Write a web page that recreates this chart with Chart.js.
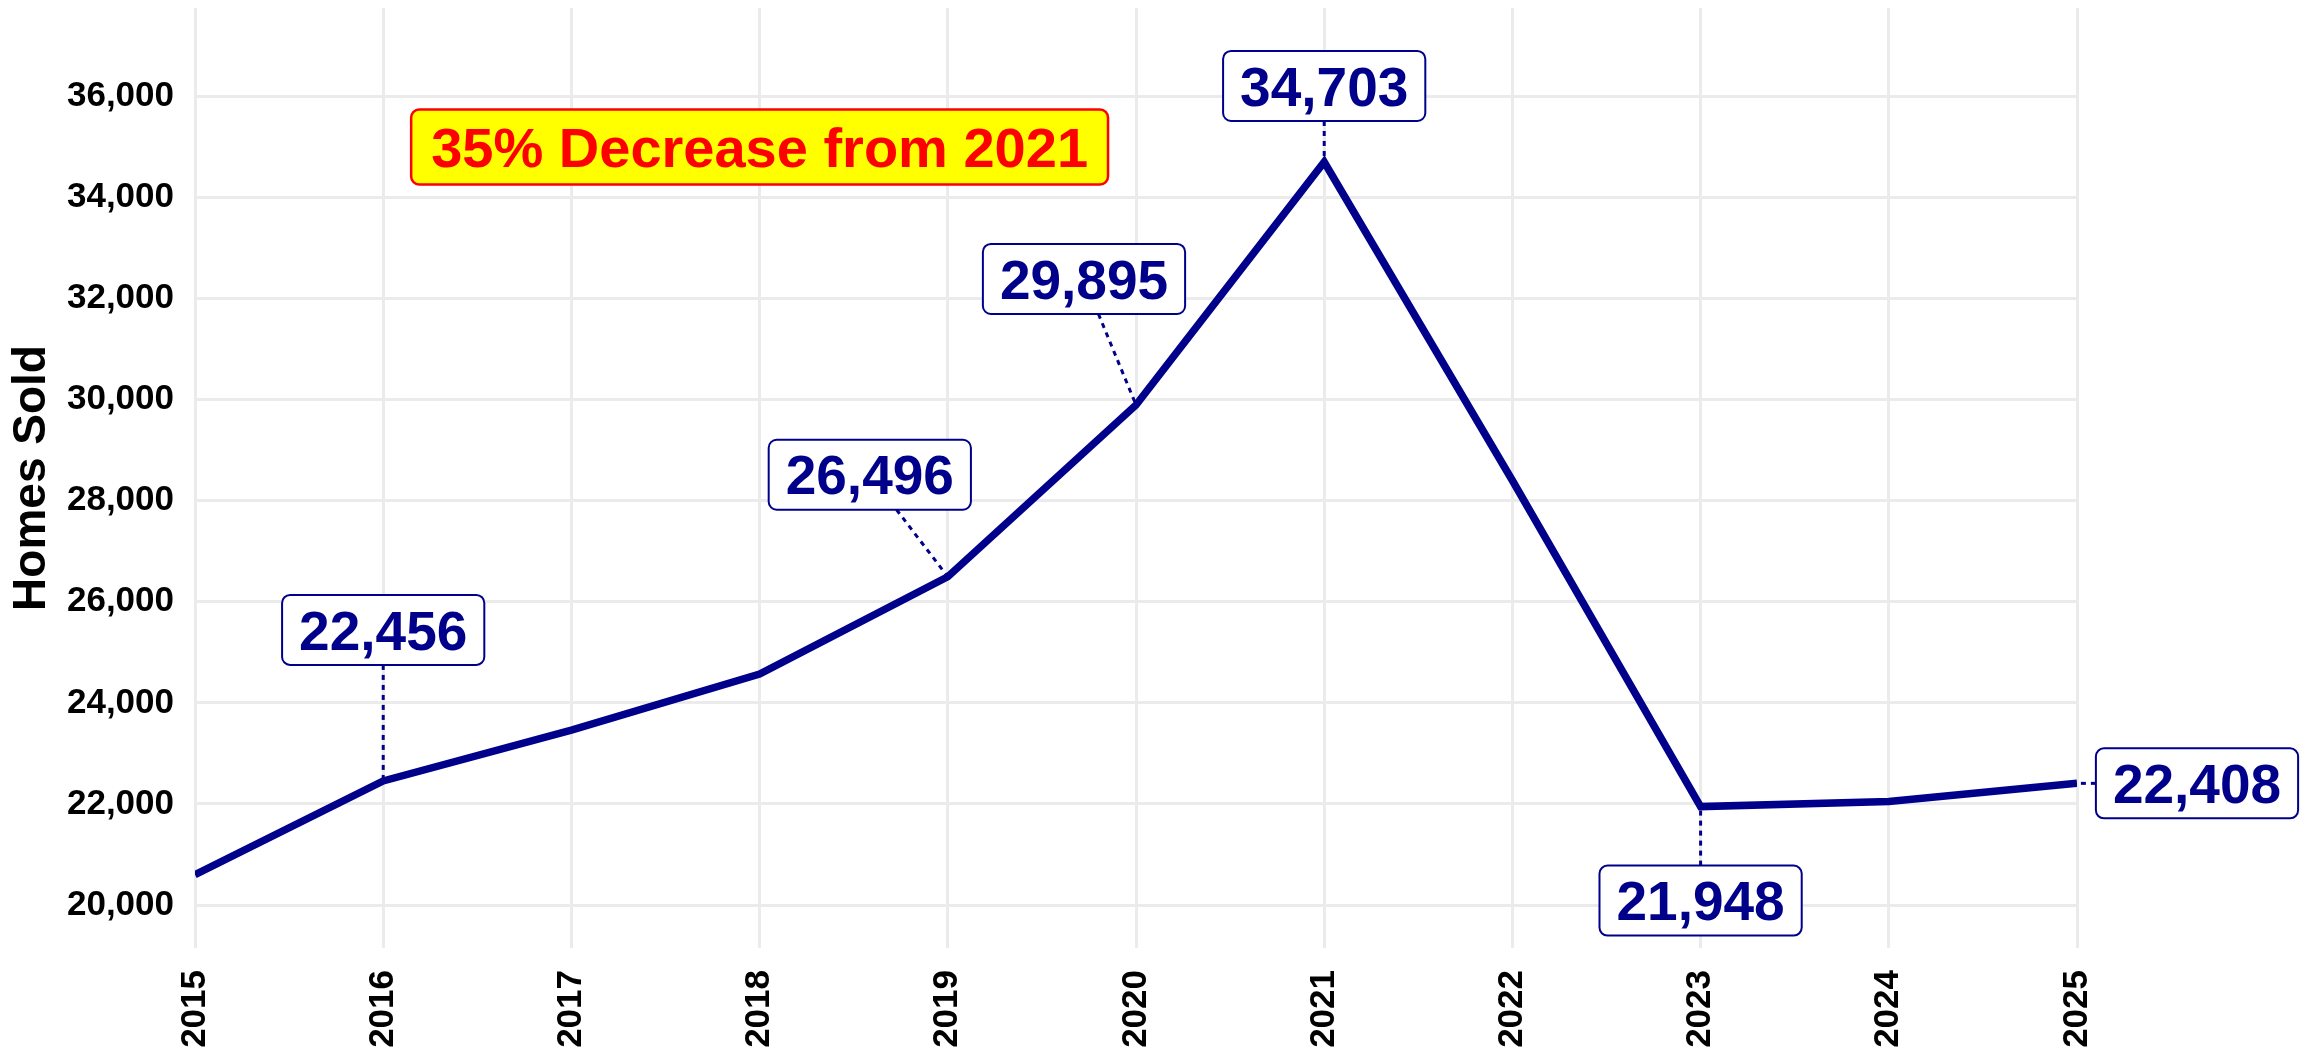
<!DOCTYPE html>
<html>
<head>
<meta charset="utf-8">
<script src="https://cdn.jsdelivr.net/npm/chart.js@4.4.1/dist/chart.umd.min.js"></script>
<style>
    html, body { margin: 0; padding: 0; background: #ffffff; }
    #wrap { width: 2309px; height: 1053px; position: relative; }
</style>
</head>
<body>
<div id="wrap"><canvas id="soldChart"></canvas></div>
<script>
// Homes sold per year
const years = [2015, 2016, 2017, 2018, 2019, 2020, 2021, 2022, 2023, 2024, 2025];
const homesSold = [20600, 22456, 23460, 24570, 26496, 29895, 34703, 28400, 21948, 22050, 22408];
const yTicks = [20000, 22000, 24000, 26000, 28000, 30000, 32000, 34000, 36000];
const labeledYears = [2016, 2019, 2020, 2021, 2023, 2025];
const noteText = '35% Decrease from 2021';

const NAVY = '#00008b';
const FONT = '"Liberation Sans", Arial, sans-serif';

// value labels with dotted leaders + the yellow callout
const labelPlugin = {
    id: 'valueLabels',
    afterDatasetsDraw(chart, args, opts) {
        const ctx = chart.ctx;
        const x = chart.scales.x, y = chart.scales.y;
        ctx.save();

        // callout box
        ctx.font = 'bold ' + opts.noteSize + 'px ' + FONT;
        const nw = ctx.measureText(noteText).width + 2 * opts.notePadX;
        const nh = opts.noteH;
        const nx = x.getPixelForValue(opts.noteAt[0]);
        const ny = y.getPixelForValue(opts.noteAt[1]);
        ctx.beginPath();
        ctx.roundRect(nx - nw / 2, ny - nh / 2, nw, nh, 8);
        ctx.fillStyle = '#ffff00';
        ctx.fill();
        ctx.lineWidth = 2.5;
        ctx.strokeStyle = '#ff0000';
        ctx.stroke();
        ctx.fillStyle = '#ff0000';
        ctx.textAlign = 'center';
        ctx.textBaseline = 'alphabetic';
        ctx.fillText(noteText, nx, ny + opts.noteSize * 0.358);

        ctx.font = 'bold ' + opts.size + 'px ' + FONT;
        labeledYears.forEach(yr => {
            const v = homesSold[years.indexOf(yr)];
            const px = x.getPixelForValue(yr);
            const py = y.getPixelForValue(v);
            const nudge = opts.nudge[yr];
            const text = v.toLocaleString('en-US');
            const w = ctx.measureText(text).width + 2 * opts.padX;
            const h = opts.boxH;
            const cx = px + nudge[0], cy = py + nudge[1];

            // leader from box edge to the point
            const dx = px - cx, dy = py - cy;
            const s = Math.min(dx ? (w / 2) / Math.abs(dx) : Infinity,
                               dy ? (h / 2) / Math.abs(dy) : Infinity);
            if (s < 1) {
                ctx.beginPath();
                ctx.setLineDash([5, 5]);
                ctx.lineWidth = 3;
                ctx.strokeStyle = NAVY;
                ctx.moveTo(cx + dx * s, cy + dy * s);
                ctx.lineTo(px, py);
                ctx.stroke();
                ctx.setLineDash([]);
            }

            ctx.beginPath();
            ctx.roundRect(cx - w / 2, cy - h / 2, w, h, 8);
            ctx.fillStyle = '#ffffff';
            ctx.fill();
            ctx.lineWidth = 2;
            ctx.strokeStyle = NAVY;
            ctx.stroke();
            ctx.fillStyle = NAVY;
            ctx.textAlign = 'center';
            ctx.fillText(text, cx, cy + opts.size * 0.358);
        });
        ctx.restore();
    }
};

const tickFont = { family: FONT, size: 35, weight: 'bold' };

new Chart(document.getElementById('soldChart').getContext('2d'), {
    type: 'line',
    data: {
        datasets: [{
            label: 'Homes Sold',
            data: years.map((yr, i) => ({ x: yr, y: homesSold[i] })),
            borderColor: NAVY,
            borderWidth: 7.5,
            pointRadius: 0,
            fill: false,
            tension: 0
        }]
    },
    options: {
        responsive: true,
        maintainAspectRatio: false,
        animation: false,
        layout: { padding: { top: 8, right: 232, bottom: 0, left: 0 } },
        plugins: {
            legend: { display: false },
            tooltip: { enabled: false },
            valueLabels: {
                size: 55,
                padX: 17,
                boxH: 70,
                nudge: {
                    2016: [0, -151],
                    2019: [-78, -102],
                    2020: [-52, -126],
                    2021: [0, -76],
                    2023: [0, 94],
                    2025: [120, 0]
                },
                noteAt: [2018, 35000],
                noteSize: 56,
                notePadX: 20,
                noteH: 75
            }
        },
        scales: {
            x: {
                type: 'linear',
                min: 2015,
                max: 2025,
                ticks: {
                    stepSize: 1,
                    autoSkip: false,
                    minRotation: 90,
                    maxRotation: 90,
                    padding: 22,
                    color: '#000000',
                    font: tickFont,
                    callback: v => String(v)
                },
                grid: { color: '#ebebeb', lineWidth: 3, drawTicks: false },
                border: { display: false },
                afterFit: s => {
                    s.height = 105;
                    s.paddingLeft = 0;
                    s.paddingRight = 0;
                }
            },
            y: {
                min: 19150,
                max: 37750,
                afterBuildTicks: s => { s.ticks = yTicks.map(v => ({ value: v })); },
                ticks: {
                    padding: 21,
                    color: '#000000',
                    font: tickFont,
                    callback: v => v.toLocaleString('en-US')
                },
                grid: { color: '#ebebeb', lineWidth: 3, drawTicks: false },
                border: { display: false },
                title: {
                    display: true,
                    text: 'Homes Sold',
                    color: '#000000',
                    font: { family: FONT, size: 46, weight: 'bold' },
                    padding: { top: 5, bottom: 0 }
                },
                afterFit: s => {
                    s.width = 195;
                    s.paddingTop = 0;
                    s.paddingBottom = 0;
                }
            }
        }
    },
    plugins: [labelPlugin]
});
</script>
</body>
</html>
